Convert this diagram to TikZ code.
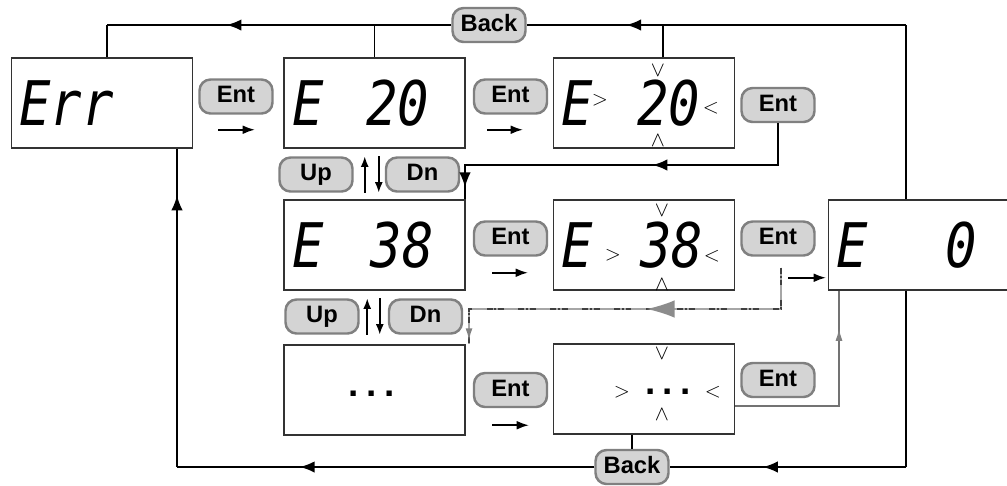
\documentclass[tikz,border=0pt]{standalone}
\usepackage{fontspec}
\newfontfamily\segfont{DejaVu Sans Mono}[FakeStretch=0.85]
\newfontfamily\keyfont{Liberation Sans}
\usetikzlibrary{arrows.meta,positioning,calc,decorations.markings}

\begin{document}
\begin{tikzpicture}[
  x=0.02cm, y=-0.02cm,
  disp/.style={draw=black!80, line width=0.6pt, fill=white, minimum width=3.62cm, minimum height=1.8cm,
    text width=3.3cm, inner xsep=0.16cm, inner ysep=0pt, align=left,
    font=\segfont\itshape\fontsize{35}{35}\selectfont},
  key/.style={draw=black!50, line width=1.4pt, fill=black!17, rounded corners=0.22cm,
    minimum width=1.46cm, minimum height=0.68cm, inner sep=0pt, text height=9.8pt, text depth=2.6pt,
    font=\keyfont\bfseries\fontsize{13.5}{15}\selectfont},
  hint/.style={inner sep=0pt, font=\fontsize{13}{13}\selectfont},
  dotrow/.style={inner sep=0pt, font=\keyfont\bfseries\fontsize{21}{21}\selectfont},
  wire/.style={line width=1.1pt},
  graywire/.style={draw=black!55, line width=0.8pt},
  dashwire/.style={draw=black!35, line width=1pt,
    postaction={draw=black!75, line width=1pt, dash pattern=on 3.4pt off 1.1pt on 1.1pt off 1.1pt on 3.4pt off 8pt}},
  tipat/.style={postaction={decorate, decoration={markings,
    mark=at position #1 with {\arrow{Latex[length=8.5pt,width=6.5pt]}}}}},
  bigtipat/.style={postaction={decorate, decoration={markings,
    mark=at position #1 with {\arrow[black!45]{Latex[length=16pt,width=10pt]}}}}},
  gtipat/.style={postaction={decorate, decoration={markings,
    mark=at position #1 with {\arrow[black!50]{Latex[length=7pt,width=4pt]}}}}},
  hop/.style={-{Latex[length=7pt,width=5pt]}, line width=1.1pt},
  updn/.style={-{Latex[length=6pt,width=4.5pt]}, line width=1pt}
]
\useasboundingbox (0,0) rectangle (1007,485);

% displays
\node[disp] (err) at (102,103) {Err};
\node[disp] (e20) at (374.5,103) {E\hspace{0.86cm}20};
\node[disp] (e20s) at (644,103) {E\hspace{0.89cm}20};
\node[disp] (e38) at (374.5,245) {E\hspace{0.95cm}38};
\node[disp] (e38s) at (644,245) {E\hspace{0.95cm}38};
\node[disp] (e0) at (918.5,245) {E\hspace{1.57cm}0};
\node[disp] (dots) at (374.5,390) {};
\node[disp] (dotss) at (644,389) {};

% cursor marks
\node[hint] (e20sL) at ([shift={(-44,-3)}]e20s.center) {$>$};
\node[hint] (e20sR) at ([shift={(67,5)}]e20s.center) {$<$};
\node[hint] (e20sU) at ([shift={(14,-32)}]e20s.center) {$\vee$};
\node[hint] (e20sD) at ([shift={(14,38)}]e20s.center) {$\wedge$};
\node[hint] (e38sL) at ([shift={(-31,10)}]e38s.center) {$>$};
\node[hint] (e38sR) at ([shift={(68,11)}]e38s.center) {$<$};
\node[hint] (e38sU) at ([shift={(18,-34)}]e38s.center) {$\vee$};
\node[hint] (e38sD) at ([shift={(18,40)}]e38s.center) {$\wedge$};
\node[hint] (dotssL) at ([shift={(-22,3)}]dotss.center) {$>$};
\node[hint] (dotssR) at ([shift={(69,3)}]dotss.center) {$<$};
\node[hint] (dotssU) at ([shift={(18,-35)}]dotss.center) {$\vee$};
\node[hint] (dotssD) at ([shift={(18,26)}]dotss.center) {$\wedge$};
\node[dotrow] (dotsA) at ([shift={(-3,4)}]dots.center) {.\hspace{0.15cm}.\hspace{0.15cm}.};
\node[dotrow] (dotsB) at ([shift={(24,3)}]dotss.center) {.\hspace{0.15cm}.\hspace{0.15cm}.};

% keys
\node[key] (backA) at (489,25) {Back};
\node[key] (backB) at (632,467) {Back};
\node[key] (entA) at (236,96.5) {Ent};
\node[key] (entB) at (510.5,96.5) {Ent};
\node[key] (entC) at (778,105) {Ent};
\node[key] (upA) at (316,174.5) {Up};
\node[key] (dnA) at (422.5,174.5) {Dn};
\node[key] (entD) at (510.5,238.5) {Ent};
\node[key] (entE) at (778,238.5) {Ent};
\node[key] (upB) at (322,316.5) {Up};
\node[key] (dnB) at (425.5,316.5) {Dn};
\node[key] (entF) at (510.5,390) {Ent};
\node[key] (entG) at (778,380) {Ent};

\coordinate (topR) at (906,25);
\coordinate (topL) at (107,25);
\coordinate (botR) at (906,467);
\coordinate (botL) at (177,467);
\coordinate (retA) at (465,165);
\coordinate (retB) at (469,309);
\coordinate (retC) at (839,406);

% back paths
\draw[wire] (e0.north -| topR) -- (topR);
\draw[wire, tipat=0.738] (topR) -- (backA.east);
\draw[wire, tipat=0.653] (backA.west) -- (topL);
\draw[wire] (topL) -- (topL |- err.north);
\draw[wire] (e20.north) -- (e20.north |- topL);
\draw[wire] ([xshift=0.38cm]e20s.north) -- ([xshift=0.38cm]e20s.north |- topL);
\draw[wire] (e0.south -| botR) -- (botR);
\draw[wire, tipat=0.606] (botR) -- (backB.east);
\draw[wire, tipat=0.706] (backB.west) -- (botL);
\draw[wire, tipat=0.853] (botL) -- (botL |- err.south);
\draw[wire] (backB.north) -- (backB.north |- dotss.south);

% enter paths
\draw[wire, tipat=0.43, tipat=0.969] (entC.south) |- (retA) -- (retA |- e38.north);
\draw[dashwire, bigtipat=0.452, gtipat=0.99] ([shift={(3,11)}]entE.south) |- (retB) -- (retB |- dots.north);
\draw[graywire, gtipat=0.827] ([shift={(0,17)}]dotss.east) -- (retC) -- (retC |- e0.south);

% key arrows
\draw[hop] ([shift={(-18,15)}]entA.south) -- ++(37,0);
\draw[hop] ([shift={(-23.5,15)}]entB.south) -- ++(36,0);
\draw[hop] ([shift={(-18.5,16)}]entD.south) -- ++(36,0);
\draw[hop] ([shift={(10,21)}]entE.south) -- ++(38,0);
\draw[hop] ([shift={(-18.5,17)}]entF.south) -- ++(37,0);
\draw[updn] ([shift={(11,0)}]upA.south east) -- ([shift={(11,0)}]upA.north east);
\draw[updn] ([shift={(-6,0)}]dnA.north west) -- ([shift={(-6,0)}]dnA.south west);
\draw[updn] ([shift={(7.5,0)}]upB.south east) -- ([shift={(7.5,0)}]upB.north east);
\draw[updn] ([shift={(-8,0)}]dnB.north west) -- ([shift={(-8,0)}]dnB.south west);
\end{tikzpicture}
\end{document}
